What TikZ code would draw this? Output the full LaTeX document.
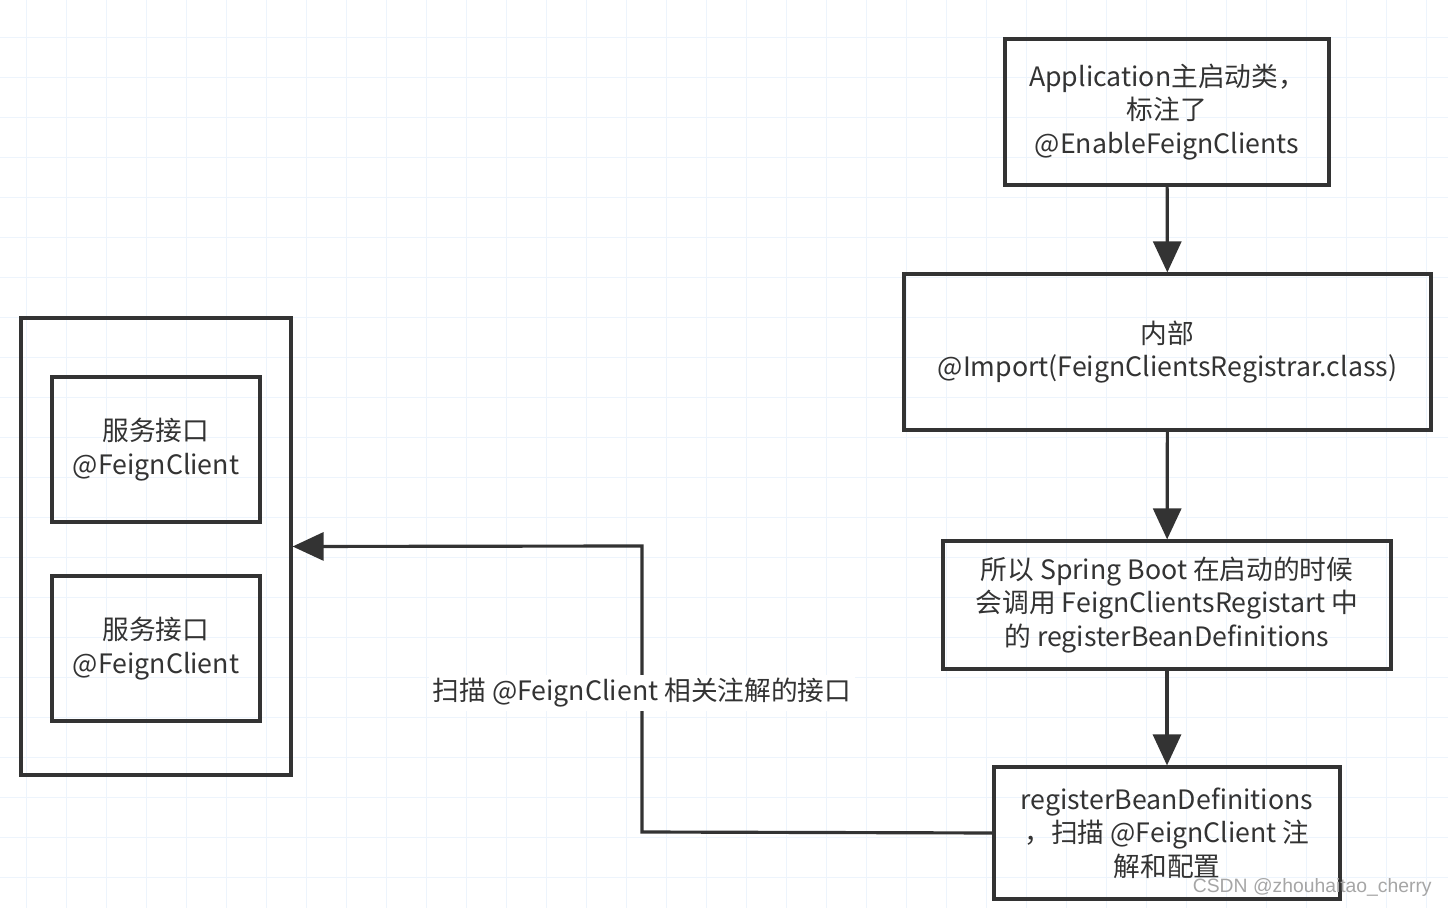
\documentclass[tikz,border=0pt]{standalone}
\usepackage{fontspec}
\setmainfont{Noto Sans CJK SC}
\newfontfamily\markfont{Liberation Sans}
\usetikzlibrary{arrows.meta}
\definecolor{inkgray}{HTML}{333333}
\definecolor{gridblue}{HTML}{EDF4FC}
\begin{document}
\begin{tikzpicture}[
  x=0.02cm, y=-0.02cm,
  block/.style={rectangle, draw=inkgray, line width=1.8pt, text=inkgray, align=center,
    inner sep=0pt, font=\fontsize{15.2}{19}\selectfont},
  line/.style={draw=inkgray, line width=1.8pt, -{Triangle[length=0.62cm, width=0.56cm]}},
  gridline/.style={draw=gridblue, line width=0.5pt}
  ]

\useasboundingbox (0,0) rectangle (1448,908);
\fill[white] (0,0) rectangle (1448,908);
\foreach \gx in {26.5,66.5,...,1448} \draw[gridline] (\gx,0) -- (\gx,908);
\foreach \gy in {37,77,...,908} \draw[gridline] (0,\gy) -- (1448,\gy);

\node [block, minimum width=324*0.02cm, minimum height=146*0.02cm] (app) at (1167,112)
  {Application主启动类，\\标注了\\@EnableFeignClients};
\node [block, minimum width=527*0.02cm, minimum height=156*0.02cm] (import) at (1167.5,352)
  {内部\\@Import(FeignClientsRegistrar.class)};
\node [block, minimum width=448*0.02cm, minimum height=128*0.02cm] (boot) at (1167,605)
  {所以 Spring Boot 在启动的时候\\会调用 FeignClientsRegistart 中\\的 registerBeanDefinitions};
\node [block, minimum width=346*0.02cm, minimum height=132*0.02cm] (register) at (1167,833)
  {registerBeanDefinitions\\，扫描 @FeignClient 注\\解和配置};

\node [block, minimum width=270*0.02cm, minimum height=457*0.02cm] (clients) at (156,546.5) {};
\node [block, minimum width=208*0.02cm, minimum height=145*0.02cm] (svc_a) at (156,449.5)
  {服务接口\\@FeignClient};
\node [block, minimum width=208*0.02cm, minimum height=145*0.02cm] (svc_b) at (156,648.5)
  {服务接口\\@FeignClient};

\path [line] (app) -- (import);
\path [line] (import) -- (boot);
\path [line] (boot) -- (register);
\path [line] (register.west) -- (642,832) -- (642,546) -- (clients.east);

\node [fill=white, text=inkgray, inner sep=2pt, font=\fontsize{15.2}{19}\selectfont] (scan) at (642,693)
  {扫描 @FeignClient 相关注解的接口};

\node [anchor=east, text=gray!70, font=\markfont\fontsize{11}{13}\selectfont, inner sep=0pt] (mark) at (1432,888)
  {CSDN @zhouhaitao\_cherry};

\end{tikzpicture}
\end{document}
